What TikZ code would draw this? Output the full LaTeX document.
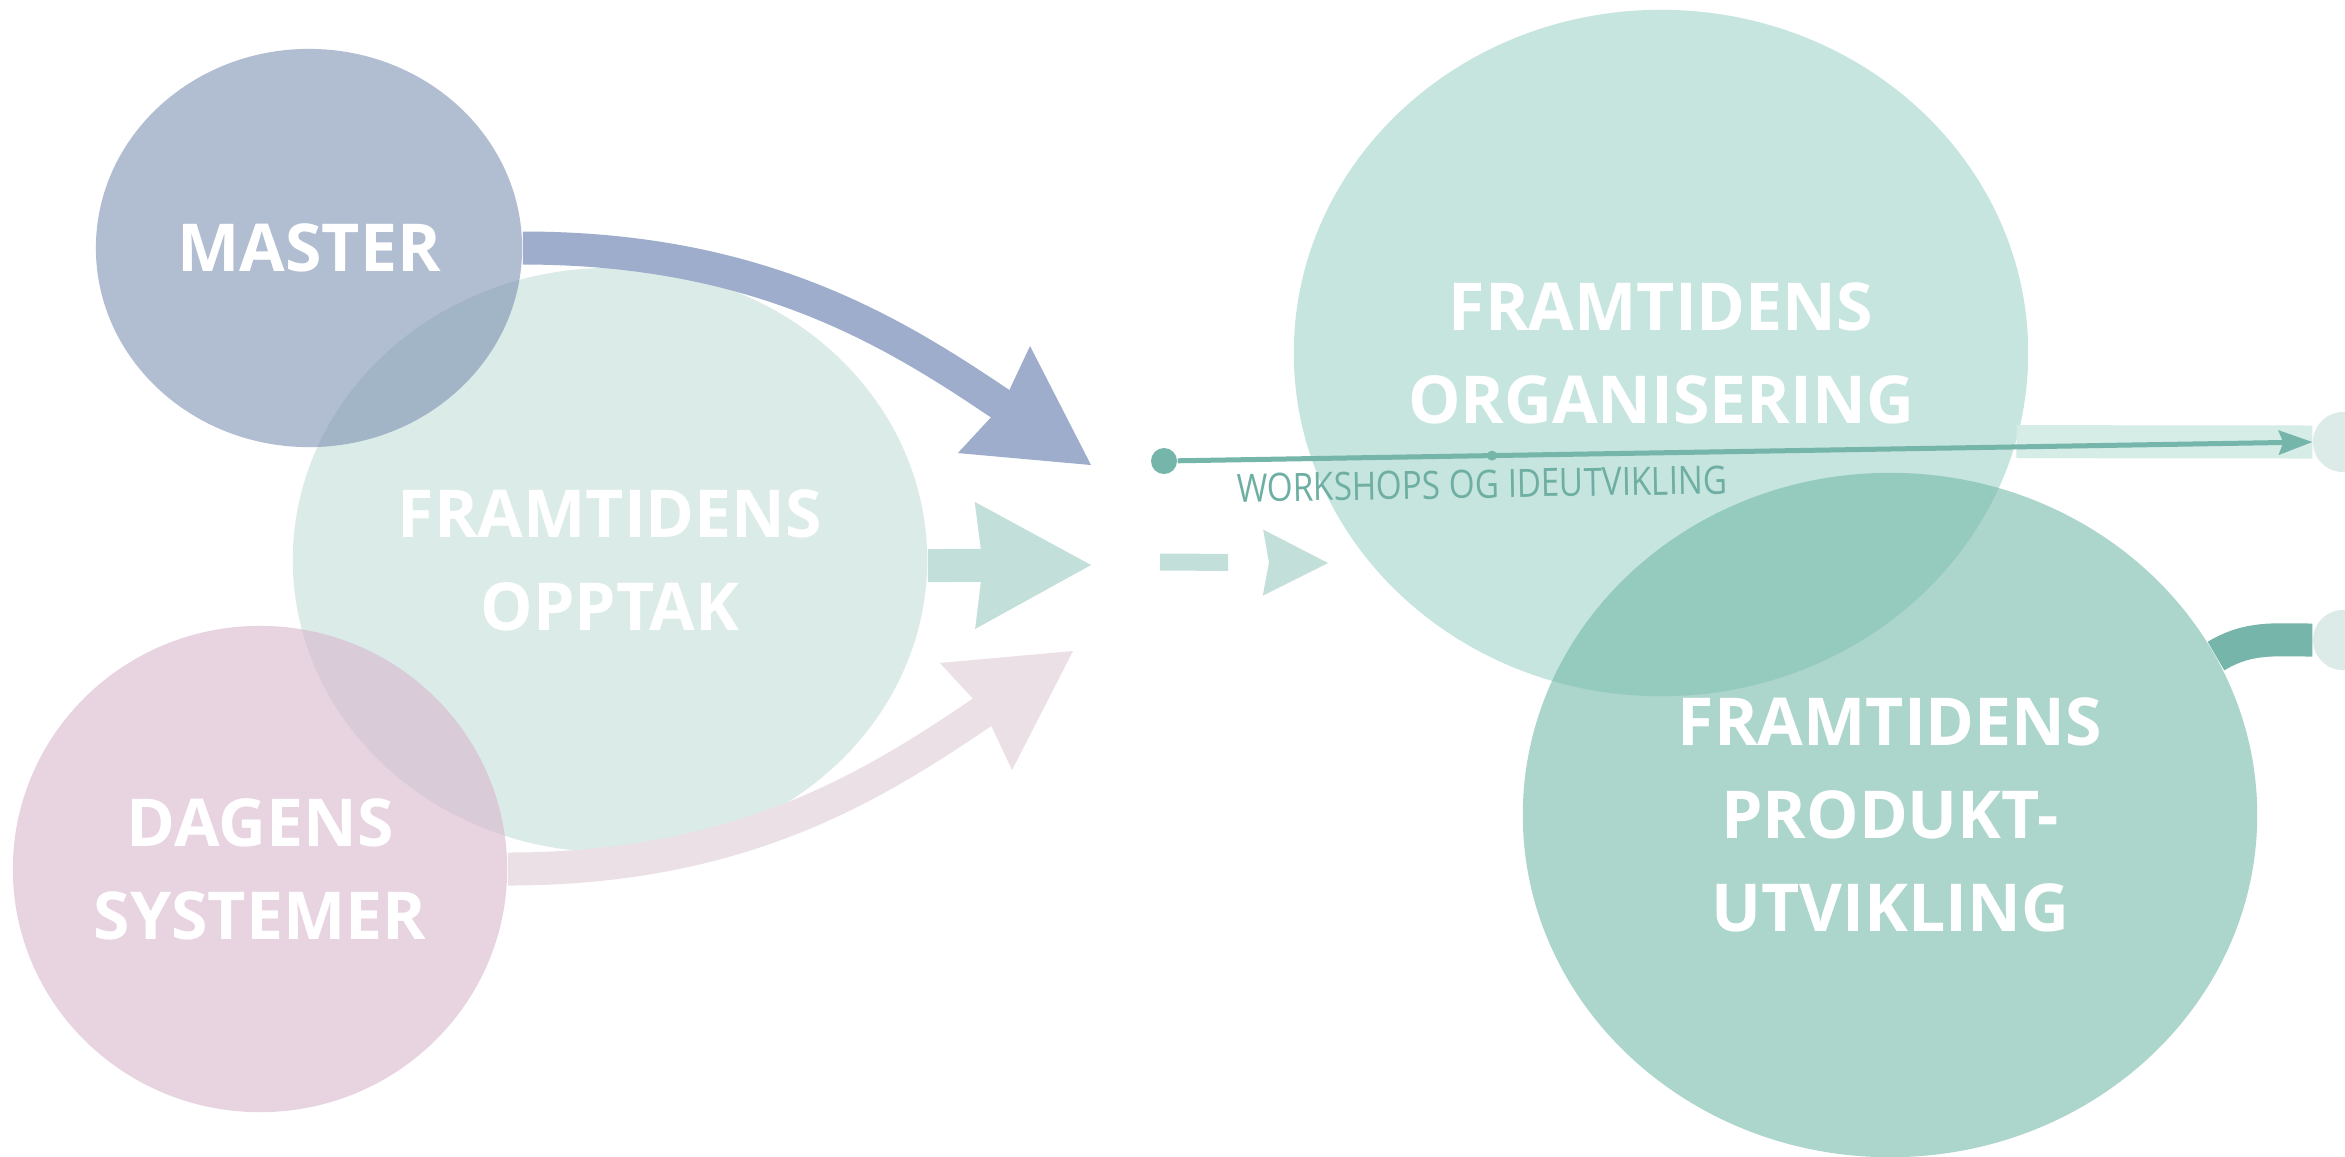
\documentclass[tikz,border=0pt]{standalone}
\usepackage{fontspec}
\setmainfont{Open Sans}
\usetikzlibrary{shapes, arrows.meta}

\definecolor{masterc}{HTML}{7D91B1}
\definecolor{opptakc}{HTML}{C3DED9}
\definecolor{dagensc}{HTML}{D9B6CD}
\definecolor{orgc}{HTML}{A0D4CA}
\definecolor{prodc}{HTML}{75B9AA}
\definecolor{bluec}{HTML}{9EADCC}
\definecolor{pinkc}{HTML}{EBE0E6}
\definecolor{mintc}{HTML}{C2E0D9}
\definecolor{linec}{HTML}{76B5AA}
\definecolor{faintc}{HTML}{D5ECE7}
\definecolor{endc}{HTML}{DCEBE7}
\definecolor{labelc}{HTML}{6FAFA3}

\begin{document}
\begin{tikzpicture}[x=0.01cm, y=-0.01cm, >=Stealth,
    blob/.style={ellipse, inner sep=0pt, fill opacity=.6, text opacity=1, text=white,
      align=center, font=\fontsize{18.8pt}{26.5pt}\selectfont\bfseries},
    band/.style={line width=.33cm},
    bighead/.style={-{Stealth[length=1.17cm, width=1.29cm, inset=.1cm, line width=0pt]}},
    enddot/.style={circle, fill=endc, inner sep=0pt, minimum size=.60cm}]

          \useasboundingbox (0,0) rectangle (2345,1156);
          \fill [white] (0,0) rectangle (2345,1156);
          \clip (0,0) rectangle (2345,1156);

          \node [blob, fill=opptakc, minimum width=6.34cm, minimum height=5.84cm] (opptak) at (610,560) {FRAMTIDENS\\OPPTAK};
          \node [blob, fill=masterc, minimum width=4.26cm, minimum height=3.98cm] (master) at (309,248) {MASTER};
          \node [blob, fill=dagensc, minimum width=4.94cm, minimum height=4.86cm] (dagens) at (260,869) {DAGENS\\SYSTEMER};
          \node [blob, fill=orgc, minimum width=7.34cm, minimum height=6.86cm] (org) at (1661,353) {FRAMTIDENS\\ORGANISERING};
          \node [blob, fill=prodc, minimum width=7.34cm, minimum height=6.84cm] (prod) at (1890,815) {FRAMTIDENS\\PRODUKT-\\UTVIKLING};

          \node [enddot] (out1) at (2343,442) {};
          \node [enddot] (out2) at (2343,640) {};
          \node [circle, fill=linec, inner sep=0pt, minimum size=.26cm] (wstart) at (1164,461) {};

          \coordinate (bluetip) at (1091,465);
          \coordinate (pinktip) at (1073,651);
          \coordinate (minttip) at (1091,565);
          \coordinate (dashstart) at (1160,562);
          \coordinate (dashtip) at (1328,563);

          \draw [band, bluec, bighead] (master.east) to[out=0, in=146] (bluetip);
          \draw [band, pinkc, bighead] (dagens.east) to[out=0, in=-146] (pinktip);
          \draw [line width=.33cm, mintc, -{Stealth[length=1.16cm, width=1.27cm, inset=.08cm, line width=0pt]}] (opptak.-1) -- (minttip);
          \draw [line width=.17cm, mintc, dash pattern=on .68cm off 2cm,
                 -{Stealth[length=.65cm, width=.66cm, inset=.06cm, line width=0pt]}] (dashstart) -- (dashtip);

          \draw [line width=.33cm, faintc] (org.-14) -- (out1.west);
          \draw [band, linec] (prod.26) to[out=31, in=180] (out2.west);
          \draw [linec, line width=.05cm, -{Stealth[length=.34cm, width=.25cm, inset=.05cm, line width=0pt]}]
                (wstart) -- node [pos=.277, circle, fill=linec, inner sep=0pt, minimum size=.1cm] (wmid) {} (out1.west);

          \node [rotate=1, xscale=.85, text=labelc, font=\fontsize{11.1pt}{13pt}\selectfont] (wlabel) at (1482,484) {WORKSHOPS OG IDEUTVIKLING};

      \end{tikzpicture}
\end{document}
